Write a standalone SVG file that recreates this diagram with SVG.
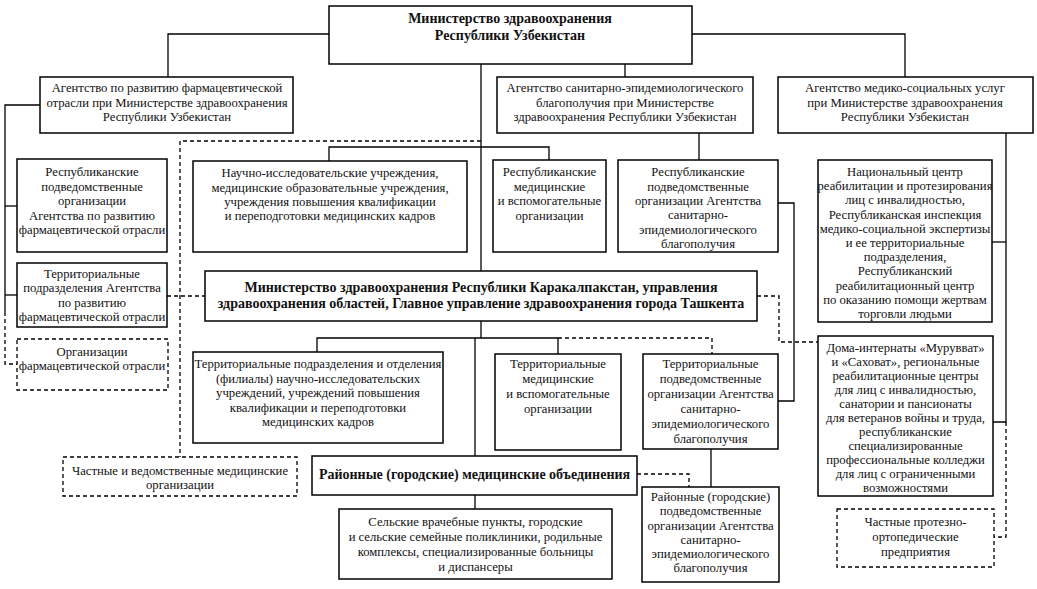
<svg xmlns="http://www.w3.org/2000/svg" width="1037" height="589" viewBox="0 0 1037 589">
<style>
.b{fill:#fff;stroke:#000;stroke-width:1.5}
.d{fill:#fff;stroke:#000;stroke-width:1.3;stroke-dasharray:4 3}
.t{font-family:"Liberation Serif","Times New Roman",serif;font-size:12.7px;text-anchor:middle;fill:#111}
.tb{font-weight:bold;font-size:14px}
.c{fill:none;stroke:#000;stroke-width:1.3}
.cd{fill:none;stroke:#000;stroke-width:1.3;stroke-dasharray:4 3}
</style>
<rect width="1037" height="589" fill="#fff"/>
<g id="connectors">
<path class="c" d="M329,34 H168 V77"/>
<path class="c" d="M692,34 H905 V77"/>
<path class="c" d="M625,64 V77"/>
<path class="c" d="M481,64 V271"/>
<path class="c" d="M329,161 V147 H549 V160"/>
<path class="c" d="M699,133 V160"/>
<path class="c" d="M40,105 H5 V312"/>
<path class="c" d="M5,206 H17"/>
<path class="c" d="M5,295 H17"/>
<path class="cd" d="M5,312 V364 H17"/>
<path class="c" d="M778,203 H794 V401 H778"/>
<path class="c" d="M992,242 H1006"/>
<path class="c" d="M1006,133 V422 H993"/>
<path class="cd" d="M1006,422 V537 H994"/>
<path class="c" d="M481,321 V338"/>
<path class="c" d="M317,352 V338 H558 V354"/>
<path class="c" d="M475,338 V456"/>
<path class="cd" d="M558,338 H712 V354"/>
<path class="c" d="M711,449 V487"/>
<path class="c" d="M475,495 V509"/>
<path class="cd" d="M637,474 H689 V487"/>
<path class="cd" d="M757,296 H779 V342 H818"/>
<path class="cd" d="M167,296 H205"/>
<path class="cd" d="M481,141 H180 V457"/>
</g>
<g id="ministry">
<rect class="b" x="329" y="6" width="363" height="58"/>
<text class="t tb"><tspan x="510" y="23">Министерство здравоохранения</tspan><tspan x="510" y="40">Республики Узбекистан</tspan></text>
</g>
<g id="agency-pharma">
<rect class="b" x="40" y="77" width="253" height="56"/>
<text class="t"><tspan x="167" y="92">Агентство по развитию фармацевтической</tspan><tspan x="167" y="107">отрасли при Министерстве здравоохранения</tspan><tspan x="167" y="121">Республики Узбекистан</tspan></text>
</g>
<g id="agency-seb">
<rect class="b" x="497" y="77" width="256" height="56"/>
<text class="t"><tspan x="625" y="92">Агентство санитарно-эпидемиологического</tspan><tspan x="625" y="107">благополучия при Министерстве</tspan><tspan x="625" y="121">здравоохранения Республики Узбекистан</tspan></text>
</g>
<g id="agency-social">
<rect class="b" x="778" y="77" width="255" height="56"/>
<text class="t"><tspan x="905" y="92">Агентство медико-социальных услуг</tspan><tspan x="905" y="107">при Министерстве здравоохранения</tspan><tspan x="905" y="121">Республики Узбекистан</tspan></text>
</g>
<g id="pharma-rep">
<rect class="b" x="17" y="159" width="150" height="93"/>
<text class="t"><tspan x="92" y="176">Республиканские</tspan><tspan x="92" y="190.5">подведомственные</tspan><tspan x="92" y="205">организации</tspan><tspan x="92" y="220">Агентства по развитию</tspan><tspan x="92" y="234">фармацевтической отрасли</tspan></text>
</g>
<g id="pharma-terr">
<rect class="b" x="17" y="263" width="150" height="64"/>
<text class="t"><tspan x="92" y="278">Территориальные</tspan><tspan x="92" y="292">подразделения Агентства</tspan><tspan x="92" y="307">по развитию</tspan><tspan x="92" y="321">фармацевтической отрасли</tspan></text>
</g>
<g id="pharma-org">
<rect class="d" x="17" y="339" width="151" height="51"/>
<text class="t"><tspan x="92" y="356">Организации</tspan><tspan x="92" y="370">фармацевтической отрасли</tspan></text>
</g>
<g id="research">
<rect class="b" x="193" y="161" width="274" height="91"/>
<text class="t"><tspan x="330" y="177">Научно-исследовательские учреждения,</tspan><tspan x="330" y="192">медицинские образовательные учреждения,</tspan><tspan x="330" y="206">учреждения повышения квалификации</tspan><tspan x="330" y="220">и переподготовки медицинских кадров</tspan></text>
</g>
<g id="rep-med">
<rect class="b" x="493" y="160" width="113" height="92"/>
<text class="t"><tspan x="549.5" y="176">Республиканские</tspan><tspan x="549.5" y="191">медицинские</tspan><tspan x="549.5" y="205">и вспомогательные</tspan><tspan x="549.5" y="220">организации</tspan></text>
</g>
<g id="rep-seb">
<rect class="b" x="618" y="160" width="160" height="92"/>
<text class="t"><tspan x="698" y="176">Республиканские</tspan><tspan x="698" y="190.5">подведомственные</tspan><tspan x="698" y="205">организации Агентства</tspan><tspan x="698" y="219">санитарно-</tspan><tspan x="698" y="234">эпидемиологического</tspan><tspan x="698" y="248">благополучия</tspan></text>
</g>
<g id="national-center">
<rect class="b" x="818" y="160" width="174" height="162"/>
<text class="t"><tspan x="905" y="176">Национальный центр</tspan><tspan x="905" y="190.2">реабилитации и протезирования</tspan><tspan x="905" y="204.4">лиц с инвалидностью,</tspan><tspan x="905" y="218.6">Республиканская инспекция</tspan><tspan x="905" y="232.8">медико-социальной экспертизы</tspan><tspan x="905" y="247">и ее территориальные</tspan><tspan x="905" y="261.2">подразделения,</tspan><tspan x="905" y="275.4">Республиканский</tspan><tspan x="905" y="289.6">реабилитационный центр</tspan><tspan x="905" y="303.8">по оказанию помощи жертвам</tspan><tspan x="905" y="318">торговли людьми</tspan></text>
</g>
<g id="regional-ministry">
<rect class="b" x="205" y="271" width="552" height="50"/>
<text class="t tb"><tspan x="481" y="291.5">Министерство здравоохранения Республики Каракалпакстан, управления</tspan><tspan x="481" y="307.5">здравоохранения областей, Главное управление здравоохранения города Ташкента</tspan></text>
</g>
<g id="terr-branches">
<rect class="b" x="193" y="352" width="250" height="91"/>
<text class="t"><tspan x="318" y="368">Территориальные подразделения и отделения</tspan><tspan x="318" y="383">(филиалы) научно-исследовательских</tspan><tspan x="318" y="397">учреждений, учреждений повышения</tspan><tspan x="318" y="412">квалификации и переподготовки</tspan><tspan x="318" y="426">медицинских кадров</tspan></text>
</g>
<g id="terr-med">
<rect class="b" x="495" y="354" width="126" height="96"/>
<text class="t"><tspan x="558" y="368">Территориальные</tspan><tspan x="558" y="383">медицинские</tspan><tspan x="558" y="398">и вспомогательные</tspan><tspan x="558" y="413">организации</tspan></text>
</g>
<g id="terr-seb">
<rect class="b" x="643" y="354" width="135" height="95"/>
<text class="t"><tspan x="710.5" y="368">Территориальные</tspan><tspan x="710.5" y="383">подведомственные</tspan><tspan x="710.5" y="398">организации Агентства</tspan><tspan x="710.5" y="413">санитарно-</tspan><tspan x="710.5" y="428">эпидемиологического</tspan><tspan x="710.5" y="443">благополучия</tspan></text>
</g>
<g id="boarding-homes">
<rect class="b" x="818" y="336" width="175" height="160"/>
<text class="t"><tspan x="905.5" y="352">Дома-интернаты «Мурувват»</tspan><tspan x="905.5" y="366">и «Саховат», региональные</tspan><tspan x="905.5" y="380">реабилитационные центры</tspan><tspan x="905.5" y="394">для лиц с инвалидностью,</tspan><tspan x="905.5" y="408">санатории и пансионаты</tspan><tspan x="905.5" y="422">для ветеранов войны и труда,</tspan><tspan x="905.5" y="436">республиканские</tspan><tspan x="905.5" y="450">специализированные</tspan><tspan x="905.5" y="464">профессиональные колледжи</tspan><tspan x="905.5" y="478">для лиц с ограниченными</tspan><tspan x="905.5" y="492">возможностями</tspan></text>
</g>
<g id="private-med">
<rect class="d" x="63" y="457" width="234" height="39"/>
<text class="t"><tspan x="180" y="475">Частные и ведомственные медицинские</tspan><tspan x="180" y="489">организации</tspan></text>
</g>
<g id="district-assoc">
<rect class="b" x="312" y="456" width="325" height="39"/>
<text class="t tb"><tspan x="474.5" y="479">Районные (городские) медицинские объединения</tspan></text>
</g>
<g id="district-seb">
<rect class="b" x="642" y="487" width="137" height="95"/>
<text class="t"><tspan x="710.5" y="501">Районные (городские)</tspan><tspan x="710.5" y="515">подведомственные</tspan><tspan x="710.5" y="530">организации Агентства</tspan><tspan x="710.5" y="544">санитарно-</tspan><tspan x="710.5" y="558">эпидемиологического</tspan><tspan x="710.5" y="572">благополучия</tspan></text>
</g>
<g id="rural">
<rect class="b" x="339" y="509" width="273" height="70"/>
<text class="t"><tspan x="475.5" y="526">Сельские врачебные пункты, городские</tspan><tspan x="475.5" y="541">и сельские семейные поликлиники, родильные</tspan><tspan x="475.5" y="556">комплексы, специализированные больницы</tspan><tspan x="475.5" y="571">и диспансеры</tspan></text>
</g>
<g id="private-prosthetic">
<rect class="d" x="837" y="509" width="157" height="58"/>
<text class="t"><tspan x="915.5" y="526">Частные протезно-</tspan><tspan x="915.5" y="541">ортопедические</tspan><tspan x="915.5" y="556">предприятия</tspan></text>
</g>
</svg>
